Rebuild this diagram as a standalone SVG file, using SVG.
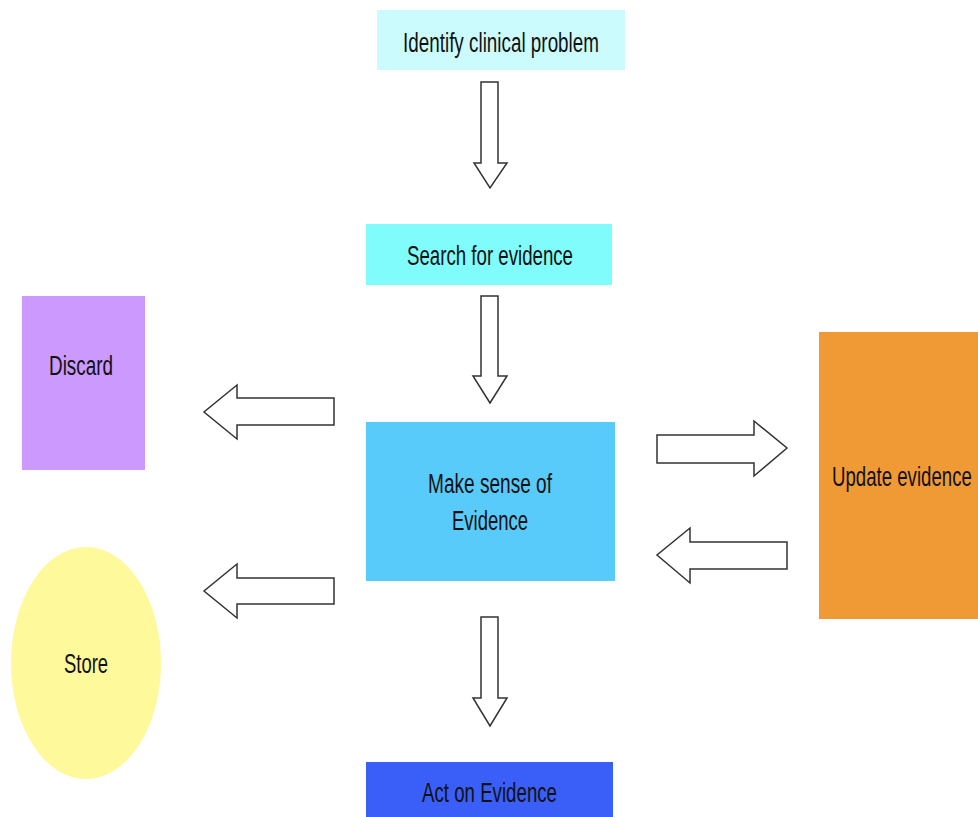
<svg xmlns="http://www.w3.org/2000/svg" width="978" height="817" viewBox="0 0 978 817">
<style>
.lbl{font-family:"Liberation Sans",Arial,sans-serif;font-size:27px;fill:#111;}
.arr{fill:#fff;stroke:#333;stroke-width:1.5;stroke-linejoin:miter;}
</style>
<rect width="978" height="817" fill="#fff"/>
<g id="connectors">
<polygon class="arr" points="481,82 498,82 498,163 507,163 490,188 474,163 481,163"/>
<polygon class="arr" points="481,296 498,296 498,376 507,376 490,403 473,376 481,376"/>
<polygon class="arr" points="481,617 498,617 498,698 507,698 490,726 473,698 481,698"/>
<polygon class="arr" points="334,398 334,425 237,425 237,439 204,412 237,385 237,398"/>
<polygon class="arr" points="334,578 334,604 237,604 237,618 204,591 237,564 237,578"/>
<polygon class="arr" points="657,435 754,435 754,421 787,448 754,476 754,463 657,463"/>
<polygon class="arr" points="787,542 787,569 690,569 690,583 657,555 690,528 690,542"/>
</g>
<g id="identify">
<rect x="377" y="10" width="248" height="60" fill="#ccfbfe"/>
<text class="lbl" x="403" y="52" textLength="196" lengthAdjust="spacingAndGlyphs">Identify clinical problem</text>
</g>
<g id="search">
<rect x="366" y="224" width="246" height="61" fill="#7ffcfb"/>
<text class="lbl" x="407" y="265" textLength="166" lengthAdjust="spacingAndGlyphs">Search for evidence</text>
</g>
<g id="discard">
<rect x="22" y="296" width="123" height="174" fill="#cc99ff"/>
<text class="lbl" x="49" y="375" textLength="64" lengthAdjust="spacingAndGlyphs">Discard</text>
</g>
<g id="makesense">
<rect x="366" y="422" width="249" height="159" fill="#59cbfb"/>
<text class="lbl" x="428" y="493" textLength="124" lengthAdjust="spacingAndGlyphs">Make sense of</text>
<text class="lbl" x="452" y="530" textLength="76" lengthAdjust="spacingAndGlyphs">Evidence</text>
</g>
<g id="update">
<rect x="819" y="332" width="159" height="287" fill="#f09a36"/>
<text class="lbl" transform="translate(832,486) scale(0.74,1)" x="0" y="0" textLength="189" lengthAdjust="spacingAndGlyphs">Update evidence</text>
</g>
<g id="store">
<ellipse cx="86" cy="663" rx="75" ry="116" fill="#fef99b"/>
<text class="lbl" x="64" y="673" textLength="44" lengthAdjust="spacingAndGlyphs">Store</text>
</g>
<g id="act">
<rect x="366" y="762" width="247" height="60" fill="#3a5ff8"/>
<text class="lbl" x="422" y="802" textLength="135" lengthAdjust="spacingAndGlyphs">Act on Evidence</text>
</g>
</svg>
